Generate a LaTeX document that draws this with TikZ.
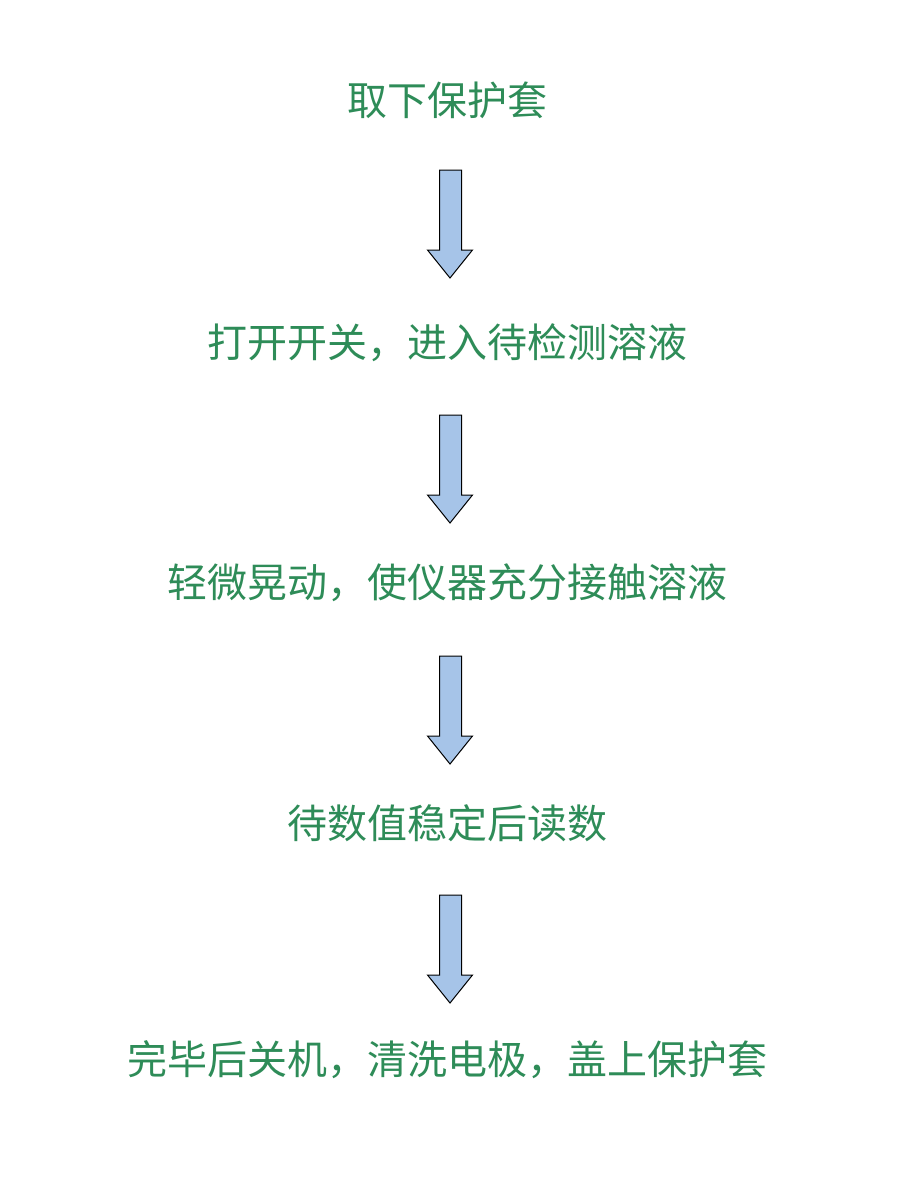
\documentclass[tikz,border=0pt]{standalone}
\usepackage{fontspec}
\newfontfamily\cjk{Noto Sans CJK SC}
\definecolor{txtgreen}{RGB}{46,140,88}
\definecolor{arrowblue}{RGB}{166,196,232}
\tikzset{
  steptext/.style={font=\cjk\fontsize{40}{45}\selectfont, text=txtgreen, inner sep=0pt, anchor=center},
  blockarrow/.style={draw=black, line width=1pt, fill=arrowblue, line join=miter}
}
\newcommand{\downarrowblock}[2]{% #1 = top y, #2 = name
  \path (450,#1) coordinate (#2);
  \draw[blockarrow] (439.5,#1) -- (461.5,#1) -- (461.5,#1+80) -- (472.5,#1+80)
    -- (450,#1+108) -- (427.5,#1+80) -- (439.5,#1+80) -- cycle;
}
\begin{document}
\begin{tikzpicture}[x=1pt,y=-1pt]
\useasboundingbox[fill=white] (0,0) rectangle (900,1200);
\node[steptext] (s1) at (447,100) {取下保护套};
\node[steptext] (s2) at (447,343) {打开开关，进入待检测溶液};
\node[steptext] (s3) at (447,583) {轻微晃动，使仪器充分接触溶液};
\node[steptext] (s4) at (447,823) {待数值稳定后读数};
\node[steptext] (s5) at (447,1060) {完毕后关机，清洗电极，盖上保护套};
\downarrowblock{170}{a1}
\downarrowblock{415}{a2}
\downarrowblock{656}{a3}
\downarrowblock{895}{a4}
\end{tikzpicture}
\end{document}
